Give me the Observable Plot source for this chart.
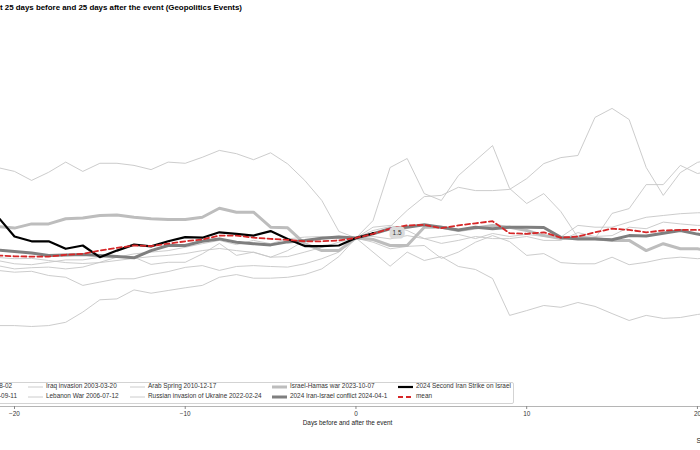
<!DOCTYPE html>
<html>
<head>
<meta charset="utf-8">
<script src="https://cdn.jsdelivr.net/npm/d3@7"></script>
<script src="https://cdn.jsdelivr.net/npm/@observablehq/plot@0.6"></script>
<style>
  html, body { margin:0; padding:0; background:#fff; }
  #wrap { position:relative; width:700px; height:450px; overflow:hidden; font-family:"Liberation Sans", Arial, sans-serif; background:#fff; }
  #chart { position:absolute; left:0; top:0; }
  .t { position:absolute; white-space:nowrap; line-height:1; }
  #title { right:458px; top:4.2px; font-size:7.9px; font-weight:bold; color:#000; }
  #xlabel { left:247.5px; width:200px; text-align:center; top:419.5px; font-size:6.4px; color:#222; }
  #source { left:696.5px; top:436.5px; font-size:7px; color:#222; }
  #legendbox { position:absolute; left:-80px; top:382px; width:592px; height:20px; border:1px solid #d3d3d3; border-radius:2px; background:rgba(255,255,255,0.8); }
  .lg { font-size:6.4px; color:#333; }
  .sw { position:absolute; }
</style>
</head>
<body>
<div id="wrap">
  <div id="chart"></div>
  <div id="legendbox"></div>
  <div id="legend"></div>
  <div id="title" class="t"></div>
  <div id="xlabel" class="t"></div>
  <div id="source" class="t"></div>
</div>
<script>
// ---------- DATA ----------
const titleText = "Brent Oil Price Movement 25 days before and 25 days after the event (Geopolitics Events)";
const xLabelText = "Days before and after the event";
const sourceText = "Source: Bloomberg";
const xTicks = [-20, -10, 0, 10, 20];

const days = [-21,-20,-19,-18,-17,-16,-15,-14,-13,-12,-11,-10,-9,-8,-7,-6,-5,-4,-3,-2,-1,0,1,2,3,4,5,6,7,8,9,10,11,12,13,14,15,16,17,18,19,20,21];
const strikeDays = [-21,-20,-19,-18,-17,-16,-15,-14,-13,-12,-11,-10,-9,-8,-7,-6,-5,-4,-3,-2,-1,0,1];

const seriesNames = [
  "Gulf War 1990-08-02",
  "9/11 2001-09-11",
  "Iraq invasion 2003-03-20",
  "Lebanon War 2006-07-12",
  "Arab Spring 2010-12-17",
  "Russian invasion of Ukraine 2022-02-24",
  "Israel-Hamas war 2023-10-07",
  "2024 Iran-Israel conflict 2024-04-1",
  "2024 Second Iran Strike on Israel",
  "mean"
];

const gulfWar = [23.5,22.2,19.2,21.9,25.3,22.2,24.9,24.9,24.2,22.8,25.3,24.9,26.9,29.2,28.1,26.1,28.4,24.7,19.2,12.5,2.2,0,2.5,3.8,9.2,13.8,14.2,16.9,15.8,15.8,16.2,19.8,24.8,26.8,27.5,40.2,43.2,39.5,23.5,14.2,21.8,25.2,26.5];
const nineEleven = [-29.2,-29.2,-29.5,-29.2,-28.1,-24.7,-20.6,-20.3,-17.3,-18.4,-17.5,-16.6,-15.8,-13.1,-12.2,-13.4,-13.4,-13.1,-12.2,-10.3,-6.2,0,-4.7,-9.4,-4.7,-7.5,-6.2,-9.5,-10.5,-13.5,-25.8,-24.2,-22.5,-23.1,-21.5,-22.8,-25.2,-27.5,-25.8,-26.8,-26.5,-25.5,-24.8];
const iraq = [-10.8,-11.4,-11.1,-12.5,-13.1,-15.8,-14.7,-13.6,-13.6,-12.2,-11.2,-9.8,-9.2,-10.8,-9.5,-9.2,-9.5,-9.7,-8.6,-6.9,-4.7,0,-1.4,-3.6,-2.8,-2.5,-6.8,-4.7,-1.4,0.8,-1.2,-5.8,-5.2,-8.2,-8.6,-8.6,-6.4,-8.9,-8.1,-6.9,-6.4,-6.9,-6.5];
const lebanon = [-7.5,-8.6,-8.9,-8.1,-7.3,-7.3,-6.4,-6.4,-6.4,-8.8,-8.1,-8.1,-5.3,-1.8,-5.8,-4.7,-6.4,-6.2,-4.7,-3.1,-1.4,0,3.6,4.2,2.5,-0.2,-1.8,-0.8,0.5,-0.2,-0.2,0.5,-0.8,-0.8,1.8,0.5,0.8,3.6,3.1,5.3,4.7,4.2,4.2];
const arabSpring = [-9.2,-10.3,-9.9,-9.7,-10.3,-9.7,-8.1,-6.4,-5.3,-4.7,-4.2,-3.1,-1.9,-0.8,-2.2,-0.8,-1.9,-0.3,0.3,0.5,-0.3,0,0.5,-0.3,0.8,-0.2,0.5,1.2,-0.2,1.5,0.5,1.2,0.5,0.3,4.2,3.6,3.6,5.3,6.9,7.5,8.1,8.4,8.5];
const russia = [-6.5,-6.9,-6.8,-7.5,-8.2,-8.5,-8.2,-7.5,-6.8,-6.2,-5.8,-5.2,-4.2,-3.5,-4.2,-4.8,-6.4,-4.2,-0.8,0.3,0.6,0,5.8,23.5,26.5,14.8,12.5,20.8,25.8,30.8,16.5,11.5,14.8,8.8,0.2,-0.2,8.2,9.8,17.8,17.8,24.2,21.5,22.5];
const israelHamas = [3.8,3.3,4.7,4.7,6.4,6.7,7.5,7.7,6.9,6.4,6.2,6.2,6.9,9.9,8.6,8.6,3.6,3.4,-1.9,-4.2,-4.2,0,-0.5,-2.5,-2.5,3.6,3.6,2.5,3.3,4.2,3.6,2.5,0.8,-0.2,0.3,-0.2,-0.8,-0.8,-4.2,-1.9,-3.6,-3.6,-4.8];
const iranIsrael = [-4.0,-4.5,-5.0,-5.8,-5.7,-5.5,-5.8,-6.2,-6.6,-4.2,-2.5,-2.5,-1.1,-0.3,-1.4,-1.9,-2.3,-1.3,-0.8,-0.1,0.3,0,1.4,3.1,3.6,4.4,3.6,2.7,3.6,3.1,3.6,3.6,3.5,0.2,-0.3,-0.3,-0.6,0.8,0.7,1.6,2.5,1.3,0.5];
const secondStrike = [7.2,0.5,-1.1,-1.1,-3.6,-2.5,-6.4,-4.2,-2.2,-2.8,-1.1,0.3,0.1,1.9,1.4,0.8,2.3,-0.3,-2.7,-2.7,-2.5,0,1.5];
const meanSeries = [-5.8,-6.1,-6.2,-6.2,-5.6,-5.3,-4.2,-3.3,-2.5,-2.7,-1.9,-1.1,-0.5,0.8,0.8,0.1,-0.3,-0.6,-1.1,-1.1,-0.8,0,1.4,3.1,4.2,4.4,3.3,4.2,4.9,5.6,1.6,1.4,1.9,0.1,0.5,1.9,3.1,2.7,1.9,2.5,2.7,2.7,2.8];

// ---------- TABLES ----------
const toRows = (name, vals, ds) => vals.map((v, i) => ({day: ds[i], value: v, name}));
const thinSeries = [gulfWar, nineEleven, iraq, lebanon, arabSpring, russia];
const thinRows = thinSeries.flatMap((vals, k) => toRows(seriesNames[k], vals, days));
const hamasRows = toRows(seriesNames[6], israelHamas, days);
const iranRows = toRows(seriesNames[7], iranIsrael, days);
const strikeRows = toRows(seriesNames[8], secondStrike, strikeDays);
const meanRows = toRows(seriesNames[9], meanSeries, days);
const lastStrike = strikeRows.slice(-1);

// ---------- STYLES ----------
const sty = {
  thin: {stroke: "#c6c6c6", width: 0.9},
  hamas: {stroke: "#bdbdbd", width: 3},
  iran: {stroke: "#7f7f7f", width: 3},
  strike: {stroke: "#000000", width: 2.2},
  mean: {stroke: "#d62728", width: 1.8, dash: "5,3"}
};

const chart = Plot.plot({
  width: 700, height: 450,
  marginLeft: 0, marginRight: 0, marginTop: 20, marginBottom: 44,
  style: {fontFamily: '"Liberation Sans", Arial, sans-serif', fontSize: "6.4px", background: "transparent"},
  x: {domain: [-20.82, 20.18]},
  y: {domain: [-56.17, 72.5], axis: null},
  marks: [
    Plot.frame({anchor: "bottom", stroke: "#b5b5b5"}),
    Plot.axisX({ticks: xTicks, tickSize: 3, tickPadding: 2, stroke: "#888", fill: "#333", label: null}),
    Plot.line(thinRows, {x: "day", y: "value", z: "name", stroke: sty.thin.stroke, strokeWidth: sty.thin.width, clip: true}),
    Plot.line(hamasRows, {x: "day", y: "value", stroke: sty.hamas.stroke, strokeWidth: sty.hamas.width, clip: true}),
    Plot.line(iranRows, {x: "day", y: "value", stroke: sty.iran.stroke, strokeWidth: sty.iran.width, clip: true}),
    Plot.line(strikeRows, {x: "day", y: "value", stroke: sty.strike.stroke, strokeWidth: sty.strike.width, clip: true}),
    Plot.dot(lastStrike, {x: "day", y: "value", r: 1.6, fill: "#000"}),
    Plot.line(meanRows, {x: "day", y: "value", stroke: sty.mean.stroke, strokeWidth: sty.mean.width, strokeDasharray: sty.mean.dash, clip: true}),
    Plot.text(lastStrike, {x: "day", y: "value", text: d => d.value.toFixed(1), dx: 24, dy: -1, fill: "#333", stroke: "#dadada", strokeWidth: 7, strokeLinejoin: "round"})
  ]
});
document.getElementById("chart").appendChild(chart);

document.getElementById("title").textContent = titleText;
document.getElementById("xlabel").textContent = xLabelText;
document.getElementById("source").textContent = sourceText;

// ---------- LEGEND ----------
const legendEntries = [
  {name: seriesNames[0], col: 0, row: 0, s: sty.thin},
  {name: seriesNames[1], col: 0, row: 1, s: sty.thin},
  {name: seriesNames[2], col: 1, row: 0, s: sty.thin},
  {name: seriesNames[3], col: 1, row: 1, s: sty.thin},
  {name: seriesNames[4], col: 2, row: 0, s: sty.thin},
  {name: seriesNames[5], col: 2, row: 1, s: sty.thin},
  {name: seriesNames[6], col: 3, row: 0, s: sty.hamas},
  {name: seriesNames[7], col: 3, row: 1, s: sty.iran},
  {name: seriesNames[8], col: 4, row: 0, s: sty.strike},
  {name: seriesNames[9], col: 4, row: 1, s: sty.mean}
];
const colText = [null, 46, 148, 290, 416];
const col0Right = [12, 17];
const rowCenter = [386.7, 396.7];
const swatchW = 15, swatchGap = 3;
const legend = document.getElementById("legend");
const wrap = document.getElementById("wrap");
for (const e of legendEntries) {
  const txt = document.createElement("div");
  txt.className = "t lg";
  txt.textContent = e.name;
  txt.style.top = (rowCenter[e.row] - 3.4) + "px";
  if (e.col === 0) txt.style.right = (700 - col0Right[e.row]) + "px";
  else txt.style.left = colText[e.col] + "px";
  legend.appendChild(txt);
  const left = txt.getBoundingClientRect().left - wrap.getBoundingClientRect().left;
  const ns = "http://www.w3.org/2000/svg";
  const sv = document.createElementNS(ns, "svg");
  sv.setAttribute("width", swatchW); sv.setAttribute("height", 6);
  sv.setAttribute("class", "sw");
  sv.style.left = (left - swatchW - swatchGap) + "px";
  sv.style.top = (rowCenter[e.row] - 3) + "px";
  const ln = document.createElementNS(ns, "line");
  ln.setAttribute("x1", 0); ln.setAttribute("x2", swatchW);
  ln.setAttribute("y1", 3); ln.setAttribute("y2", 3);
  ln.setAttribute("stroke", e.s.stroke);
  ln.setAttribute("stroke-width", e.s.width);
  if (e.s.dash) ln.setAttribute("stroke-dasharray", e.s.dash);
  sv.appendChild(ln);
  legend.appendChild(sv);
}
</script>
</body>
</html>
